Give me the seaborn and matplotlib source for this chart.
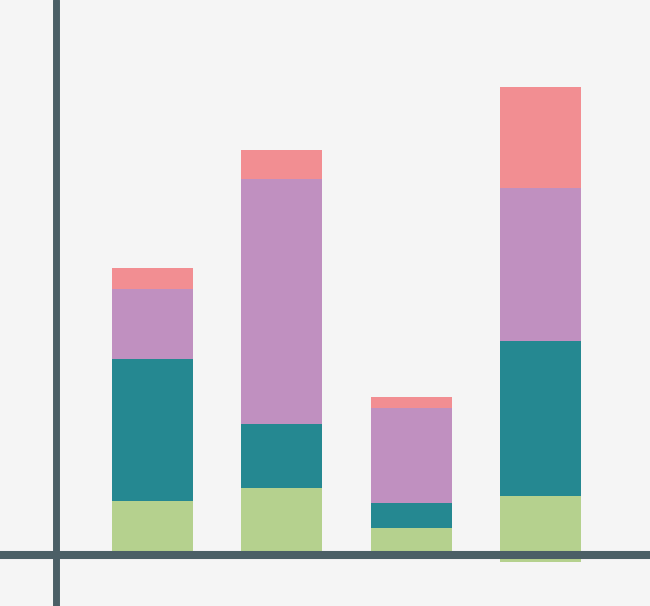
import numpy as np
import pandas as pd
import seaborn as sns
import matplotlib
matplotlib.use("Agg")
import matplotlib.pyplot as plt

categories = ["A", "B", "C", "D"]
base = [0.0, 0.0, 0.0, -0.7]
green = [5.4, 6.7, 2.7, 6.6]
teal = [14.2, 6.4, 2.5, 15.5]
purple = [7.0, 24.5, 9.5, 15.3]
pink = [2.1, 2.9, 1.1, 10.1]

layers = [
    (green, "#B5D18E"),
    (teal, "#258891"),
    (purple, "#C090C0"),
    (pink, "#F28E92"),
]

sns.set_theme(style="white")
bg = "#F5F5F5"
axis_color = "#4B5F66"

fig = plt.figure(figsize=(6.5, 6.06), dpi=100, facecolor=bg)
ax = fig.add_axes([0, 0, 1, 1])
ax.set_facecolor(bg)

bottom = np.array(base)
for vals, color in layers:
    df = pd.DataFrame({"cat": categories, "val": vals})
    sns.barplot(data=df, x="cat", y="val", color=color, saturation=1,
                width=0.625, bottom=bottom, linewidth=0, errorbar=None, ax=ax)
    bottom = bottom + np.array(vals)

ax.set_xlim(-1.174, 3.842)
ax.set_ylim(-5.1, 55.5)

ax.axhline(0, color=axis_color, linewidth=5.8, zorder=5)
ax.axvline(-0.745, color=axis_color, linewidth=5.0, zorder=5)

for s in ax.spines.values():
    s.set_visible(False)
ax.set_xticks([])
ax.set_yticks([])
ax.set_xlabel("")
ax.set_ylabel("")

fig.savefig("out.png", dpi=100, facecolor=bg)
